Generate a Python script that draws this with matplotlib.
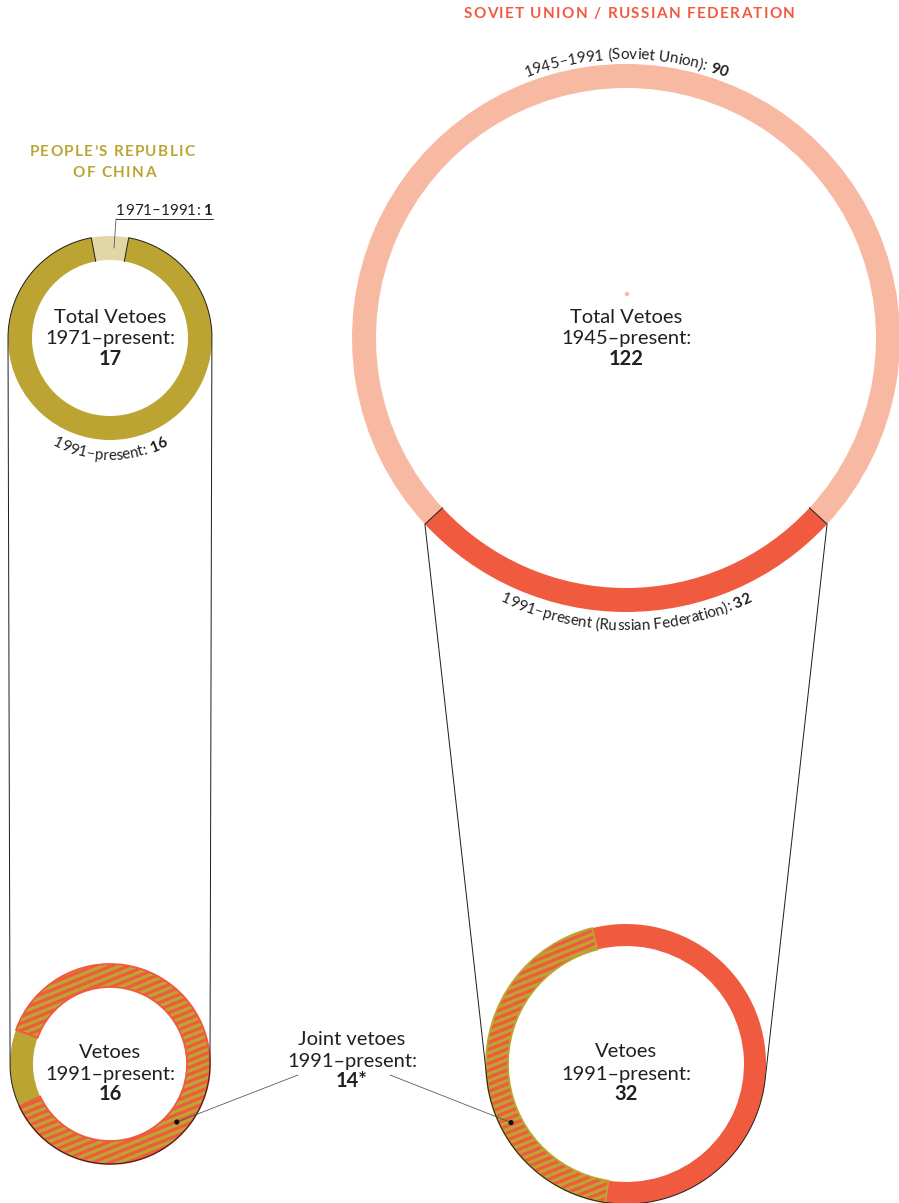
import numpy as np
import matplotlib
matplotlib.use("Agg")
import matplotlib.pyplot as plt
from matplotlib.patches import Wedge, Circle
from matplotlib.collections import LineCollection
from matplotlib.font_manager import FontProperties, findfont, get_font
try:
    from matplotlib.ft2font import LoadFlags
    NOHINT = LoadFlags.NO_HINTING
except Exception:
    NOHINT = 2

# ---------------- data ----------------
china_name = ["PEOPLE\u2019S REPUBLIC", "OF CHINA"]
russia_name = "SOVIET UNION / RUSSIAN FEDERATION"
china_periods = ["1971\u20131991", "1991\u2013present"]
china_values = [1, 16]
china_total = 17
russia_periods = ["1945\u20131991 (Soviet Union)", "1991\u2013present (Russian Federation)"]
russia_values = [90, 32]
russia_total = 122
joint_value = 14

# ---------------- style ----------------
OLIVE = '#bba431'
OLIVE_LIGHT = '#e3d6a6'
RED = '#f05a3e'
PINK = '#f8b9a2'
TXT = '#231f20'
FONT = 'Lato'

W, H, DPI = 899, 1203, 100
fig = plt.figure(figsize=(W / DPI, H / DPI), dpi=DPI)
ax = fig.add_axes([0, 0, 1, 1])
ax.set_xlim(0, W)
ax.set_ylim(0, H)
ax.axis('off')


def Y(y):
    return H - y


def fp(size, weight='normal'):
    return FontProperties(family=FONT, size=size, weight=weight)


def advance(ch, prop):
    font = get_font(findfont(prop))
    font.set_size(prop.get_size_in_points(), 72)
    g = font.load_char(ord(ch), flags=NOHINT)
    return g.linearHoriAdvance / 65536.0 * DPI / 72.0


def char_list(parts, size):
    out = []
    for s, w in parts:
        p = fp(size, w)
        for ch in s:
            out.append((ch, p, advance(ch, p)))
    return out


def curved(parts, center, radius, mid_deg, side, size, color=TXT):
    chars = char_list(parts, size)
    L = sum(c[2] for c in chars)
    pos = 0.0
    for ch, p, a in chars:
        sc = pos + a / 2 - L / 2
        pos += a
        if side == 'bottom':
            th = np.radians(mid_deg) + sc / radius
            rot = np.degrees(th) + 90
        else:
            th = np.radians(mid_deg) - sc / radius
            rot = np.degrees(th) - 90
        if ch == ' ':
            continue
        ax.text(center[0] + radius * np.cos(th), center[1] + radius * np.sin(th), ch,
                fontproperties=p, color=color, rotation=rot, rotation_mode='anchor',
                ha='center', va='baseline', zorder=6)


def tracked(parts, x, y, size, color, tracking=0.0):
    chars = char_list(parts, size)
    L = sum(c[2] for c in chars) + tracking * (len(chars) - 1)
    pos = x - L / 2
    for ch, p, a in chars:
        if ch != ' ':
            ax.text(pos + a / 2, y, ch, fontproperties=p, color=color,
                    ha='center', va='baseline', zorder=6)
        pos += a + tracking


def arc_pts(c, R, a1, a2, n=300):
    t = np.radians(np.linspace(a1, a2, n))
    return np.column_stack([c[0] + R * np.cos(t), c[1] + R * np.sin(t)])


def pol(c, R, a):
    t = np.radians(a)
    return np.array([c[0] + R * np.cos(t), c[1] + R * np.sin(t)])


def hatched_wedge(center, R, r, t1, t2, bg, fg):
    w = Wedge(center, R, t1, t2, width=R - r, facecolor=bg, edgecolor='none', zorder=2)
    ax.add_patch(w)
    ang = np.radians(22)
    spacing = 7.0
    cx, cy = center
    xs = np.array([cx - R - 20, cx + R + 20])
    segs = []
    for c in np.arange(-2 * R, 2 * R, spacing):
        segs.append(np.column_stack([xs, cy + c + np.tan(ang) * (xs - cx)]))
    lc = LineCollection(segs, colors=fg, linewidths=3.3 * 72 / DPI, zorder=2.5)
    ax.add_collection(lc)
    lc.set_clip_path(w)
    ax.add_patch(Wedge(center, R, t1, t2, width=R - r, facecolor='none',
                       edgecolor=bg, lw=1.3, zorder=3))


LW = 1.0 * 72 / DPI

# ---------------- China ----------------
C1 = (110, Y(338)); R1, r1 = 102, 78
C2 = (110, Y(1064)); R2, r2 = 100, 77

span_pre = 360.0 * china_values[0] / china_total
a_lo, a_hi = 90 - span_pre / 2, 90 + span_pre / 2
ax.add_patch(Wedge(C1, R1, a_lo, a_hi, width=R1 - r1, facecolor=OLIVE_LIGHT, edgecolor='none', zorder=2))
ax.add_patch(Wedge(C1, R1, a_hi, a_lo + 360, width=R1 - r1, facecolor=OLIVE, edgecolor='none', zorder=2))

# bottom china donut: solid part (China-only) and hatched joint part
solid_span = 360.0 * (china_values[1] - joint_value) / china_values[1]
s1 = 160.0
ax.add_patch(Wedge(C2, R2, s1, s1 + solid_span, width=R2 - r2, facecolor=OLIVE, edgecolor='none', zorder=2))
hatched_wedge(C2, R2, r2, s1 + solid_span, s1 + 360, RED, OLIVE)

# outline
d = C1[1] - C2[1]
beta = np.degrees(np.arcsin((R2 - R1) / d))
aL, aR = 180 - beta, beta
path = np.vstack([
    [pol(C1, r1, a_hi)],
    arc_pts(C1, R1, a_hi, aL),
    arc_pts(C2, R2, aL, aR + 360),
    arc_pts(C1, R1, aR, a_lo),
    [pol(C1, r1, a_lo)],
])
ax.plot(path[:, 0], path[:, 1], color=TXT, lw=LW, zorder=4, solid_joinstyle='round')

# ---------------- Russia ----------------
C3 = (626, Y(338)); R3, r3 = 274, 250
C4 = (626, Y(1064)); R4, r4 = 140, 118

span_post = 360.0 * russia_values[1] / russia_total
b_lo, b_hi = 270 - span_post / 2, 270 + span_post / 2
ax.add_patch(Wedge(C3, R3, b_hi, b_lo + 360, width=R3 - r3, facecolor=PINK, edgecolor='none', zorder=2))
ax.add_patch(Wedge(C3, R3, b_lo, b_hi, width=R3 - r3, facecolor=RED, edgecolor='none', zorder=2))

joint_span = 360.0 * joint_value / russia_values[1]
h1 = 104.0
hatched_wedge(C4, R4, r4, h1, h1 + joint_span, OLIVE, RED)
ax.add_patch(Wedge(C4, R4, h1 + joint_span, h1 + 360, width=R4 - r4, facecolor=RED, edgecolor='none', zorder=2))


def tangent_angle(P, C, R, sign):
    v = np.array(P) - np.array(C)
    dd = np.hypot(*v)
    phi = np.degrees(np.arctan2(v[1], v[0]))
    return phi + sign * np.degrees(np.arccos(R / dd))


PL = pol(C3, R3, b_lo)
PR = pol(C3, R3, b_hi)
tL = tangent_angle(PL, C4, R4, +1)
tR = tangent_angle(PR, C4, R4, -1) + 360
path = np.vstack([
    [pol(C3, r3, b_lo)],
    [PL],
    arc_pts(C4, R4, tL, tR),
    [PR],
    [pol(C3, r3, b_hi)],
])
ax.plot(path[:, 0], path[:, 1], color=TXT, lw=LW, zorder=4, solid_joinstyle='round')

# tiny mark near the big circle's centre (as in the reference)
ax.add_patch(Circle((627, Y(294)), 2.2, facecolor=PINK, edgecolor='none', zorder=3))

# ---------------- titles ----------------
tracked([(china_name[0], 'bold')], 112, Y(156.5), 11, OLIVE, tracking=1.3)
tracked([(china_name[1], 'bold')], 114, Y(177), 11, OLIVE, tracking=1.3)
tracked([(russia_name, 'bold')], 629, Y(18), 11, RED, tracking=1.35)

# ---------------- centre labels ----------------
CS = 14.5


def centre(x, ys, lines):
    for yy, (s, w) in zip(ys, lines):
        ax.text(x, Y(yy), s, fontproperties=fp(CS, w), color=TXT, ha='center', va='baseline', zorder=6)


centre(110, [323, 344, 365], [("Total Vetoes", 'normal'), ("1971\u2013present:", 'normal'), (str(china_total), 'bold')])
centre(626, [323, 344, 365], [("Total Vetoes", 'normal'), ("1945\u2013present:", 'normal'), (str(russia_total), 'bold')])
centre(110, [1058, 1080, 1100], [("Vetoes", 'normal'), ("1991\u2013present:", 'normal'), (str(china_values[1]), 'bold')])
centre(626, [1057, 1080, 1100], [("Vetoes", 'normal'), ("1991\u2013present:", 'normal'), (str(russia_values[1]), 'bold')])
centre(352, [1045, 1067, 1087], [("Joint vetoes", 'normal'), ("1991\u2013present:", 'normal'), (str(joint_value) + "*", 'bold')])

# ---------------- arc labels ----------------
AS = 11
curved([(china_periods[1] + ": ", 'normal'), (str(china_values[1]), 'bold')], C1, 122, 270, 'bottom', AS)
curved([(russia_periods[0] + ": ", 'normal'), (str(russia_values[0]), 'bold')], C3, 279, 90, 'top', AS)
curved([(russia_periods[1] + ": ", 'normal'), (str(russia_values[1]), 'bold')], C3, 292, 270, 'bottom', AS)

# 1971-1991 leader label
lab_parts = [(china_periods[0] + ": ", 'normal'), (str(china_values[0]), 'bold')]
chars = char_list(lab_parts, AS)
x0 = 116
pos = x0
for ch, p, a in chars:
    if ch != ' ':
        ax.text(pos + a / 2, Y(215), ch, fontproperties=p, color=TXT, ha='center', va='baseline', zorder=6)
    pos += a
ax.plot([x0, 213], [Y(219), Y(219)], color=TXT, lw=LW * 0.9, zorder=5)
ax.plot([x0, 114], [Y(219), Y(248)], color='#555555', lw=LW * 0.8, zorder=5)

# ---------------- joint pointers ----------------
dotA = pol(C2, (R2 + r2) / 2, 319)
dotB = pol(C4, (R4 + r4) / 2, 207)
ax.plot([298, dotA[0]], [Y(1075), dotA[1]], color='#555555', lw=LW * 0.8, zorder=5)
ax.plot([390, dotB[0]], [Y(1075), dotB[1]], color='#555555', lw=LW * 0.8, zorder=5)
for dpt in (dotA, dotB):
    ax.add_patch(Circle(dpt, 2.6, facecolor='#111111', edgecolor='none', zorder=6))

fig.savefig('out.png', dpi=DPI, facecolor='white')
